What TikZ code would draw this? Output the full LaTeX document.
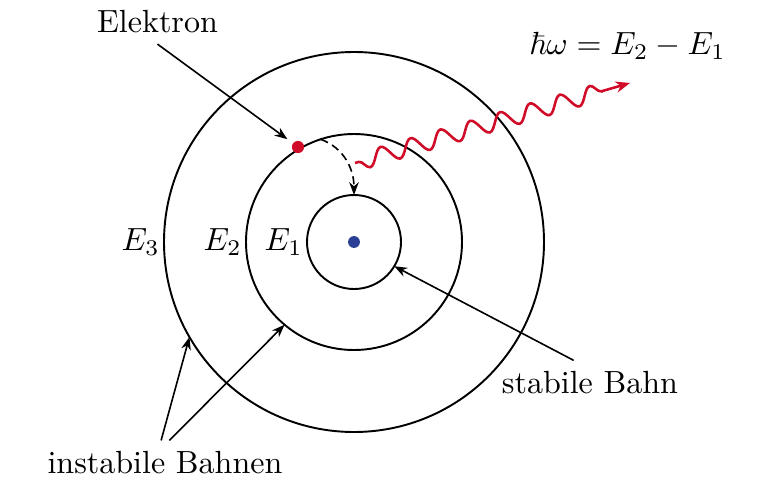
\documentclass[tikz,border=0pt]{standalone}
\usepackage{amsmath,amssymb}
\usepackage{xcolor}
\usetikzlibrary{arrows.meta,decorations.pathmorphing}
\definecolor{photonrot}{RGB}{208,12,40}
\definecolor{kernblau}{RGB}{42,62,150}

\begin{document}
\begin{tikzpicture}[scale=0.548,
  bahn/.style={line width=0.6pt},
  pfeil/.style={line width=0.5pt,-{Stealth[length=4pt,width=3pt]}},
  energie/.style={left,xshift=2.2pt},
  photon/.style={photonrot,line width=0.8pt,-{Stealth[length=4.5pt,width=3.5pt]},
    decorate,decoration={snake,mirror,amplitude=2.6pt,segment length=9.7pt,
    pre length=1.2pt,post length=8pt}}]
  \useasboundingbox (-7.08,-4.82) rectangle (8.52,4.84);
  % Bahnen: E_1 stabil, E_2 und E_3 instabil
  \draw[bahn] (0,0) circle (0.94);
  \draw[bahn] (0,0) circle (2.16);
  \draw[bahn] (0,0) circle (3.8);
  \node[circle,fill=kernblau,inner sep=0pt,minimum size=3.7pt] (kern) at (0,0) {};
  \node[circle,fill=photonrot,inner sep=0pt,minimum size=3.8pt] (elektron) at (-1.12,1.9) {};
  \node[energie] (e1) at (180:0.94) {$E_1$};
  \node[energie] (e2) at (180:2.16) {$E_2$};
  \node[energie] (e3) at (180:3.8) {$E_3$};
  % Uebergang E_2 -> E_1 mit Photon
  \coordinate (sprung) at (108:2.16);
  \coordinate (ziel) at (90:0.94);
  \draw[pfeil,dash pattern=on 2.5pt off 1.5pt] (sprung) to[out=-20,in=90] (ziel);
  \coordinate (photonanfang) at (0.02,1.58);
  \coordinate (photonende) at (5.52,3.18);
  \draw[photon] (photonanfang) -- (photonende);
  \node (hbar) at (5.47,3.92) {$\hbar\omega = E_2 - E_1$};
  % Beschriftungen
  \node (lbl-elektron) at (-3.93,4.41) {Elektron};
  \draw[pfeil,shorten >=2pt] (lbl-elektron.south) -- (elektron);
  \coordinate (stabilpunkt) at (-31:0.94);
  \node (lbl-stabil) at (4.72,-2.82) {stabile Bahn};
  \draw[pfeil] ([xshift=-9.3pt]lbl-stabil.north) -- (stabilpunkt);
  \coordinate (aussenpunkt) at (210:3.8);
  \coordinate (mittelpunkt) at (230:2.16);
  \node (lbl-instabil) at (-3.78,-4.42) {instabile Bahnen};
  \draw[pfeil] ([xshift=-2.2pt]lbl-instabil.north) -- (aussenpunkt);
  \draw[pfeil] ([xshift=2.5pt]lbl-instabil.north) -- (mittelpunkt);
\end{tikzpicture}
\end{document}
